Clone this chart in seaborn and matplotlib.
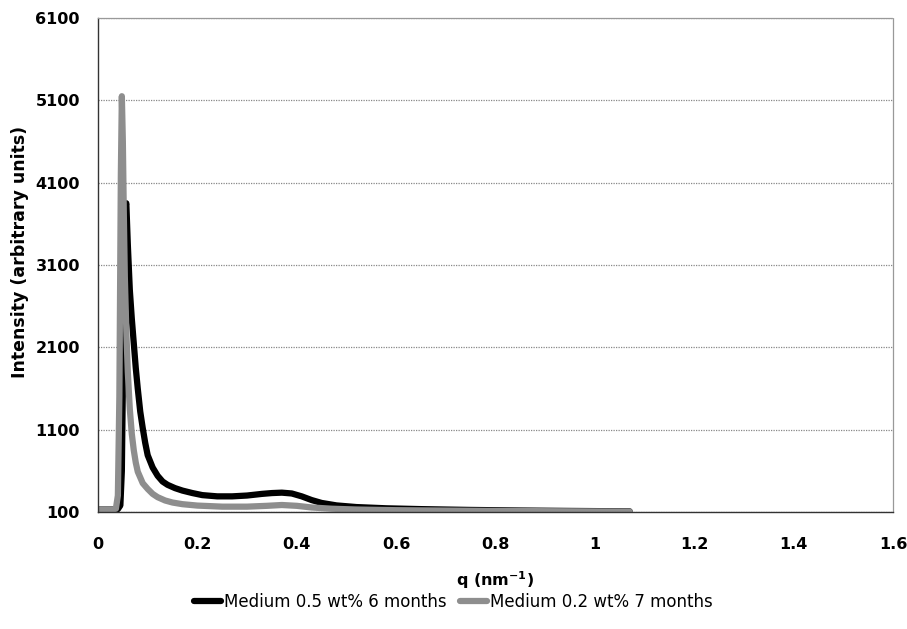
import matplotlib
matplotlib.use("Agg")
import matplotlib.pyplot as plt
import seaborn as sns
import pandas as pd
from matplotlib.ticker import FuncFormatter
from matplotlib.lines import Line2D

# ---- data ----
series_names = ["Medium 0.5 wt% 6 months", "Medium 0.2 wt% 7 months"]

q_black = [0, 0.03, 0.04, 0.045, 0.048, 0.051, 0.054, 0.057, 0.060, 0.064, 0.068,
           0.072, 0.076, 0.080, 0.085, 0.090, 0.095, 0.100, 0.110, 0.120, 0.130,
           0.140, 0.155, 0.170, 0.190, 0.210, 0.240, 0.270, 0.300, 0.330, 0.350,
           0.370, 0.390, 0.410, 0.430, 0.450, 0.480, 0.520, 0.580, 0.650, 0.750,
           0.850, 0.950, 1.070]
i_black = [130, 130, 135, 180, 600, 2200, 3800, 3850, 3350, 2800, 2450,
           2150, 1850, 1600, 1320, 1120, 940, 790, 640, 540, 470,
           430, 390, 360, 330, 305, 290, 290, 300, 320, 330,
           335, 325, 290, 245, 210, 180, 160, 145, 135, 125,
           118, 113, 108]

q_gray = [0, 0.03, 0.036, 0.040, 0.043, 0.046, 0.048, 0.050, 0.052, 0.054, 0.057,
          0.060, 0.064, 0.068, 0.072, 0.076, 0.080, 0.090, 0.100, 0.110, 0.120,
          0.135, 0.150, 0.170, 0.200, 0.250, 0.300, 0.340, 0.370, 0.400, 0.430,
          0.470, 0.520, 0.600, 0.700, 0.800, 0.900, 1.000, 1.070]
i_gray = [130, 130, 140, 300, 1500, 4200, 5150, 4600, 3700, 2950, 2300,
          1800, 1350, 1050, 850, 700, 590, 450, 380, 320, 280,
          240, 215, 195, 178, 165, 165, 175, 185, 175, 155,
          140, 130, 122, 117, 113, 110, 107, 105]

x_ticks = [0, 0.2, 0.4, 0.6, 0.8, 1.0, 1.2, 1.4, 1.6]
y_ticks = [100, 1100, 2100, 3100, 4100, 5100, 6100]

colors = ["#000000", "#8e8e8e"]

df = pd.concat([
    pd.DataFrame({"q": q_black, "I": i_black, "series": series_names[0]}),
    pd.DataFrame({"q": q_gray, "I": i_gray, "series": series_names[1]}),
])

sns.set_style("white")
plt.rcParams["font.family"] = ["DejaVu Sans"]

fig = plt.figure(figsize=(9.07, 6.29), dpi=100)
ax = fig.add_axes([98/907, 1-512/629, (893-98)/907, (512-18)/629])

sns.lineplot(data=df, x="q", y="I", hue="series", palette=colors,
             hue_order=series_names, sort=False, estimator=None,
             linewidth=4.5, ax=ax, legend=False)

ax.set_xlim(0, 1.6)
ax.set_ylim(100, 6100)
ax.set_xticks(x_ticks)
ax.set_yticks(y_ticks)
ax.xaxis.set_major_formatter(FuncFormatter(lambda v, p: f"{v:g}"))
ax.tick_params(axis="both", labelsize=11.5, direction="out", length=4,
               width=0.8, color="#444444", labelcolor="black")
for lab in ax.get_xticklabels() + ax.get_yticklabels():
    lab.set_fontweight("bold")
ax.tick_params(axis="x", pad=14)
ax.tick_params(axis="y", pad=9)

ax.yaxis.grid(True, color="#888888", linestyle=(0, (1, 1)), linewidth=0.9)
ax.xaxis.grid(False)

for side in ["top", "right"]:
    ax.spines[side].set_color("#999999")
    ax.spines[side].set_linestyle((0, (1, 1)))
    ax.spines[side].set_linewidth(0.9)
for side in ["left", "bottom"]:
    ax.spines[side].set_color("#333333")
    ax.spines[side].set_linewidth(1.0)

ax.set_xlabel("q (nm$^{\\mathbf{-1}}$)", fontsize=11.5, fontweight="bold",
              color="black")
ax.xaxis.set_label_coords(0.5, -(580 - 512) / 494, transform=ax.transAxes)
ax.set_ylabel("Intensity (arbitrary units)", fontsize=12.5, fontweight="bold",
              color="black")
ax.yaxis.set_label_coords(-(98 - 20) / 795, (512 - 252) / 494, transform=ax.transAxes)
ax.yaxis.label.set_verticalalignment("center")
ax.xaxis.label.set_verticalalignment("center")

handles = [Line2D([0], [0], color=c, linewidth=4.5) for c in colors]
fig.legend(handles, series_names, loc="center", bbox_to_anchor=(0.5, 1-602/629),
           ncol=2, frameon=False, fontsize=12, handlelength=1.6,
           handletextpad=0.2, columnspacing=0.8, labelcolor="black")

fig.savefig("out.png", dpi=100, facecolor="white")
